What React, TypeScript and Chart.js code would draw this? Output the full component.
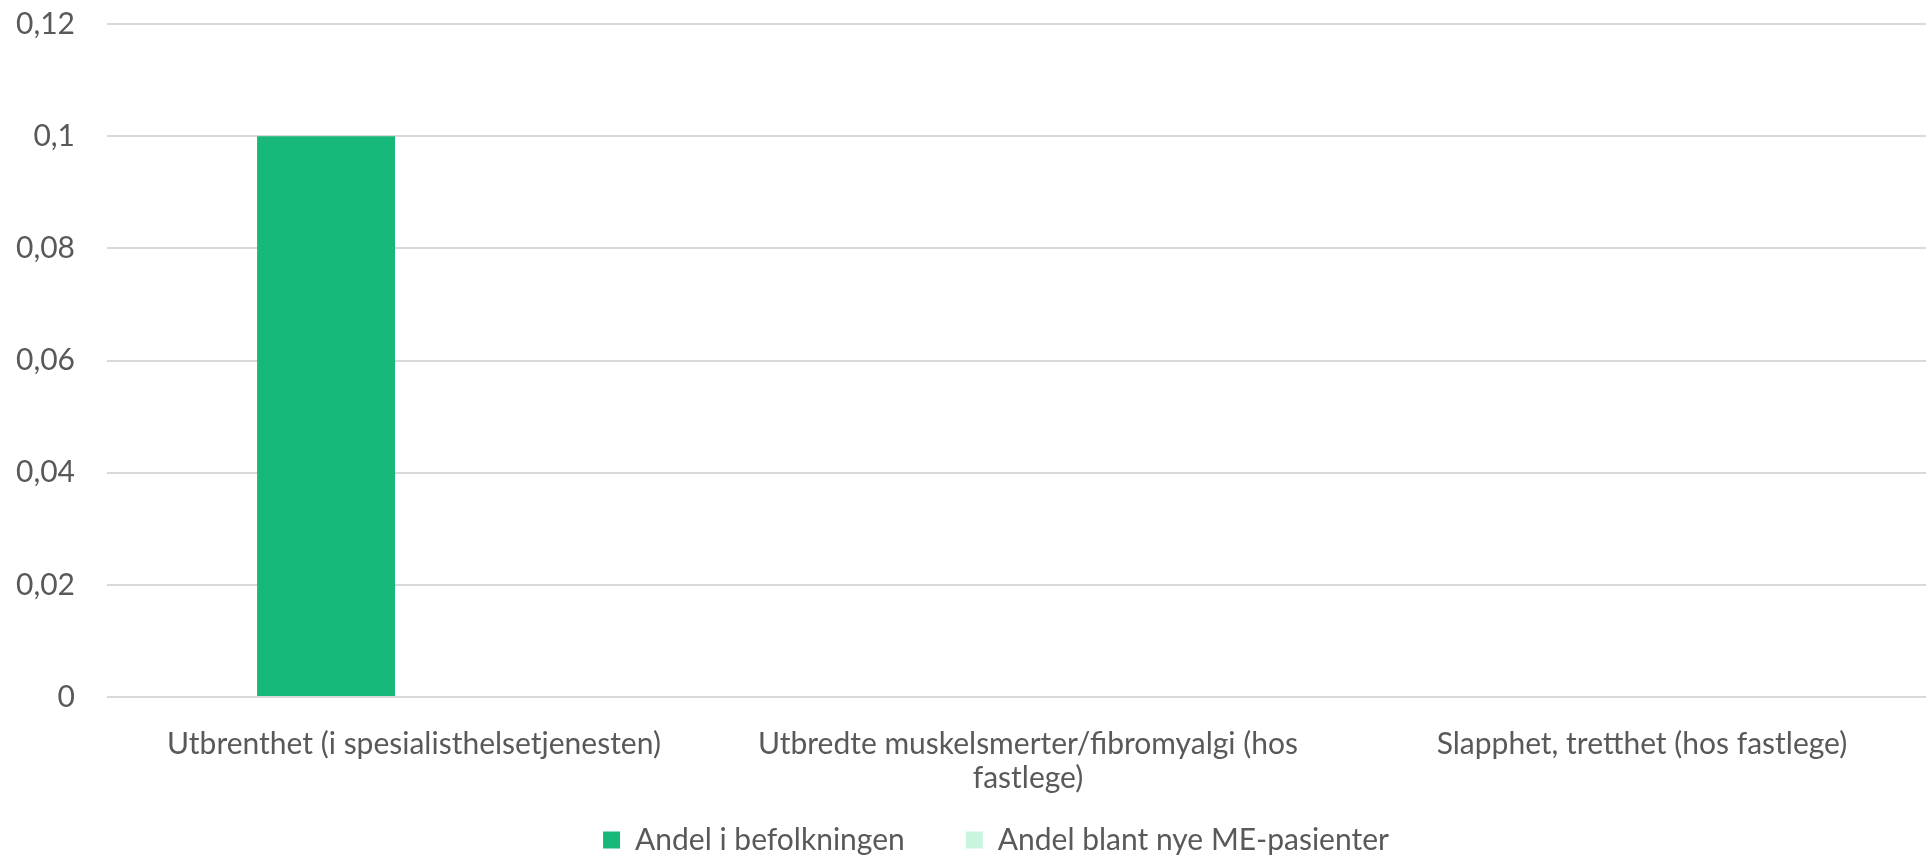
import React, { useEffect, useRef } from "react";
import { Chart, registerables } from "chart.js";

Chart.register(...registerables);

const categories: (string | string[])[] = [
  "Utbrenthet (i spesialisthelsetjenesten)",
  ["Utbredte muskelsmerter/fibromyalgi (hos", "fastlege)"],
  "Slapphet, tretthet (hos fastlege)",
];
const seriesNames = ["Andel i befolkningen", "Andel blant nye ME-pasienter"];
const andelBefolkningen: (number | null)[] = [0.1, null, null];
const andelNyeME: (number | null)[] = [null, null, null];
const yTickLabels = ["0", "0,02", "0,04", "0,06", "0,08", "0,1", "0,12"];

const FONT = "Lato, 'Open Sans', sans-serif";
const TEXT = "#595959";
const FS = 30;

// lets the two-line category label extend below the (short) x-axis box
const unclipXLabels = {
  id: "unclipXLabels",
  afterLayout(chart: any) {
    const x = chart.scales.x;
    if (x) x.bottom = chart.height;
  },
};

export default function App() {
  const ref = useRef<HTMLCanvasElement | null>(null);
  useEffect(() => {
    if (!ref.current) return;
    const chart = new Chart(ref.current, {
      type: "bar",
      data: {
        labels: categories,
        datasets: [
          {
            label: seriesNames[0],
            data: andelBefolkningen,
            backgroundColor: "#17b879",
            borderWidth: 0,
            categoryPercentage: 0.573,
            barPercentage: 0.784,
          },
          {
            label: seriesNames[1],
            data: andelNyeME,
            backgroundColor: "#c9f5df",
            borderWidth: 0,
            categoryPercentage: 0.573,
            barPercentage: 0.784,
          },
        ],
      },
      plugins: [unclipXLabels],
      options: {
        responsive: false,
        animation: false,
        devicePixelRatio: 1,
        layout: { padding: { top: 24, left: 0, right: 0, bottom: 0 } },
        plugins: {
          tooltip: { enabled: false },
          legend: {
            position: "bottom",
            labels: {
              boxWidth: 17,
              boxHeight: 17,
              padding: 61,
              color: TEXT,
              font: { family: FONT, size: FS },
            },
          },
        },
        scales: {
          x: {
            grid: { display: false },
            border: { display: false },
            ticks: {
              color: TEXT,
              font: { family: FONT, size: FS, lineHeight: 34 / FS },
              padding: 22,
              maxRotation: 0,
              autoSkip: false,
            },
            afterFit: (s: any) => {
              s.height = 67;
            },
          },
          y: {
            min: 0,
            max: 0.12,
            grid: { color: "#d9d9d9", lineWidth: 2, drawTicks: false },
            border: { display: false },
            ticks: {
              stepSize: 0.02,
              color: TEXT,
              font: { family: FONT, size: FS },
              padding: 32,
              callback: (_v: any, i: number) => yTickLabels[i],
            },
            afterFit: (s: any) => {
              s.width = 107;
              s.paddingTop = 0;
              s.paddingBottom = 0;
            },
          },
          y2: {
            position: "right",
            display: true,
            grid: { display: false },
            border: { display: false },
            ticks: { display: false },
            afterFit: (s: any) => {
              s.width = 43;
            },
          },
        },
      },
    });
    return () => chart.destroy();
  }, []);
  return (
    <div
      style={{
        position: "absolute",
        left: 0,
        top: 0,
        width: 1926,
        height: 857,
        overflow: "hidden",
        background: "#fff",
      }}
    >
      <canvas ref={ref} width={1992} height={865} style={{ width: 1992, height: 865, display: "block" }} />
    </div>
  );
}
